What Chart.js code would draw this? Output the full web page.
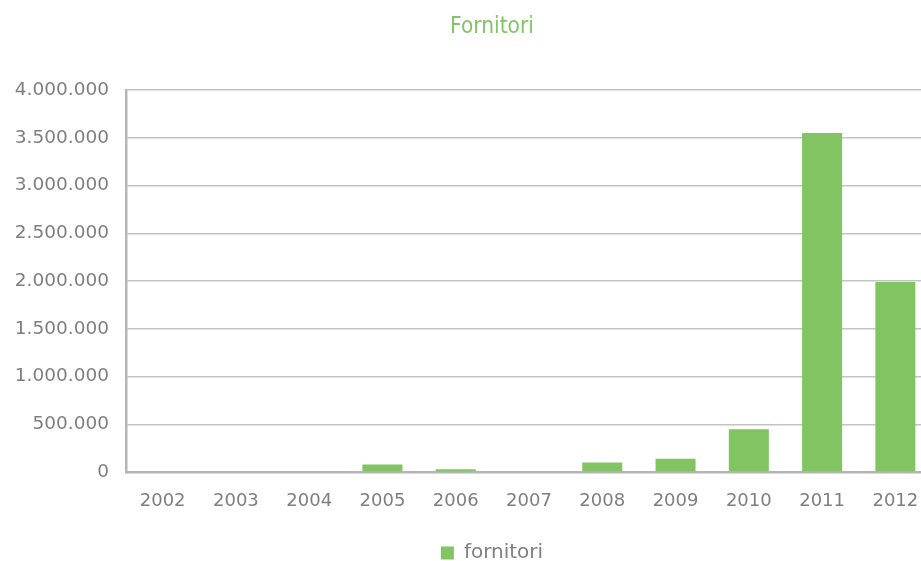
<!DOCTYPE html>
<html>
<head>
<meta charset="utf-8">
<script src="https://cdn.jsdelivr.net/npm/chart.js@4/dist/chart.umd.min.js"></script>
<style>
  html, body { margin: 0; padding: 0; overflow: hidden; background: #fff; }
  #wrap { width: 984px; height: 573px; position: relative; }
</style>
</head>
<body>
<div id="wrap"><canvas id="c"></canvas></div>
<script>
const categories = ['2002','2003','2004','2005','2006','2007','2008','2009','2010','2011','2012'];
const fornitori = [0, 0, 0, 78000, 28000, 0, 100000, 140000, 447000, 3550000, 1990000];
const seriesLabel = 'fornitori';
const chartTitle = 'Fornitori';
const yMin = 0, yMax = 4000000, yStep = 500000;

const green = '#82c462';
const gray = '#7f7f7f';
const baseFont = "'DejaVu Sans', sans-serif";

function fmt(v) {
  return String(v).replace(/\B(?=(\d{3})+(?!\d))/g, '.');
}

new Chart(document.getElementById('c'), {
  type: 'bar',
  data: {
    labels: categories,
    datasets: [{
      label: seriesLabel,
      data: fornitori,
      backgroundColor: green,
      borderWidth: 0,
      barPercentage: 0.546,
      categoryPercentage: 1,
      yAxisID: 'y'
    }]
  },
  options: {
    responsive: true,
    maintainAspectRatio: false,
    animation: false,
    devicePixelRatio: 1,
    layout: { padding: 0 },
    plugins: {
      title: {
        display: true,
        text: chartTitle,
        color: '#84c466',
        font: { family: "'Liberation Sans Narrow', 'DejaVu Sans Condensed', sans-serif", size: 22.5, weight: 'normal' },
        padding: { top: 14, bottom: 49 }
      },
      legend: {
        display: true,
        position: 'bottom',
        labels: {
          boxWidth: 13,
          boxHeight: 13,
          padding: 0,
          color: gray,
          font: { family: baseFont, size: 20 }
        }
      },
      tooltip: { enabled: false }
    },
    scales: {
      x: {
        grid: { display: false, drawTicks: false },
        border: { display: true, color: '#b5b5b5', width: 2.5 },
        ticks: {
          color: gray,
          padding: 19,
          maxRotation: 0,
          autoSkip: false,
          font: { family: baseFont, size: 18 }
        },
        afterFit: s => { s.height = 71; }
      },
      y: {
        position: 'left',
        min: yMin,
        max: yMax,
        grid: { color: '#c4c4c4', lineWidth: 1.5, drawTicks: false },
        border: { display: true, color: '#b5b5b5', width: 2.5 },
        ticks: {
          stepSize: yStep,
          color: gray,
          padding: 17,
          font: { family: baseFont, size: 18.5 },
          callback: v => fmt(v)
        },
        afterFit: s => { s.width = 126; }
      },
      yR: {
        position: 'right',
        display: true,
        min: yMin,
        max: yMax,
        grid: { display: false, drawTicks: false },
        border: { display: false },
        ticks: { display: false },
        afterFit: s => { s.width = 52; }
      }
    }
  }
});
</script>
</body>
</html>
